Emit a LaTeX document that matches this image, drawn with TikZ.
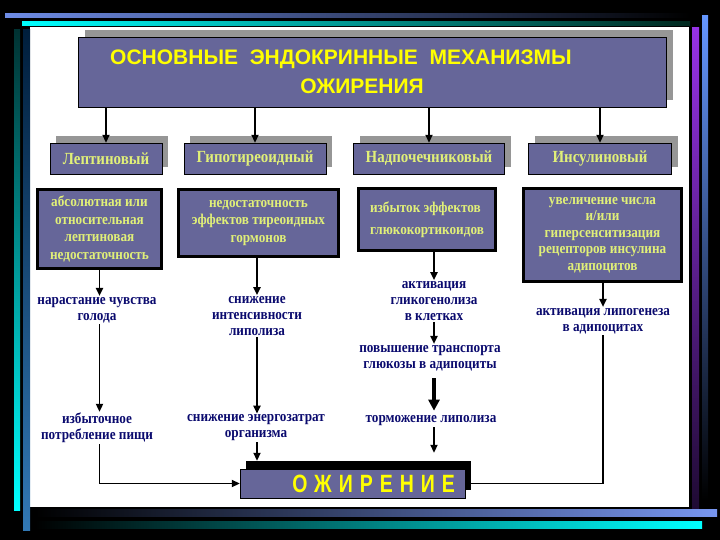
\documentclass[tikz,border=0pt]{standalone}
\usepackage{fontspec}
\setmainfont{Liberation Serif}
\newfontfamily\headfont{Liberation Sans}
\newfontfamily\narrowfont[FakeStretch=0.88]{Liberation Serif}
\newfontfamily\obesfont[FakeStretch=0.78,LetterSpace=28]{Liberation Sans}
\usetikzlibrary{arrows.meta,shadows}
\definecolor{boxfill}{RGB}{102,102,153}
\definecolor{titleyellow}{RGB}{255,255,0}
\definecolor{labelgreen}{RGB}{225,240,120}
\definecolor{navytext}{RGB}{10,10,110}
\definecolor{shadowgray}{RGB}{150,150,150}

\begin{document}
\begin{tikzpicture}[
x=1pt,y=-1pt,
titlebox/.style={
  draw=black,
  fill=boxfill,
  text=titleyellow,
  align=center,
  font=\headfont\bfseries\fontsize{21}{29}\selectfont,
  drop shadow={shadow xshift=7pt,shadow yshift=7pt,fill=shadowgray,opacity=1}
  },
mechbox/.style={
  draw=black,
  fill=boxfill,
  minimum height=31pt,
  text=labelgreen,
  font=\narrowfont\bfseries\fontsize{17}{19}\selectfont,
  drop shadow={shadow xshift=6pt,shadow yshift=7pt,fill=shadowgray,opacity=1}
  },
causebox/.style={
  draw=black,
  line width=3pt,
  fill=boxfill,
  text=labelgreen,
  align=center,
  font=\narrowfont\bfseries\fontsize{15}{17.5}\selectfont
  },
effect/.style={
  text=navytext,
  align=center,
  inner sep=1pt,
  font=\narrowfont\bfseries\fontsize{15}{16}\selectfont
  },
arr/.style={-{Triangle[length=8pt,width=7pt]},line width=1.9pt},
bigarr/.style={-{Triangle[length=11pt,width=11pt]},line width=3.5pt}
]
\useasboundingbox (0,0) rectangle (720,540);
% frame of the slide
\fill[black] (0,0) rectangle (720,540);
\fill[white] (30,27) rectangle (689,507);
\shade[left color={rgb,255:red,110;green,140;blue,230},right color=black] (5,14) rectangle (690,18);
\shade[left color=cyan,right color={rgb,255:red,0;green,40;blue,30}] (22,22) rectangle (690,26);
\shade[top color={rgb,255:red,0;green,50;blue,50},bottom color=cyan] (14,30) rectangle (20,510);
\shade[top color={rgb,255:red,0;green,30;blue,60},bottom color={rgb,255:red,50;green,120;blue,180}] (23,30) rectangle (30,530);
\shade[top color={rgb,255:red,150;green,50;blue,230},bottom color={rgb,255:red,30;green,10;blue,50}] (692,28) rectangle (699,512);
\shade[top color={rgb,255:red,100;green,150;blue,255},bottom color=black] (702,16) rectangle (708,500);
\shade[left color=black,right color={rgb,255:red,120;green,150;blue,240}] (35,509) rectangle (717,516);
\shade[left color=black,right color=cyan] (35,521) rectangle (702,528);

% title and the four mechanisms
\node[titlebox,minimum width=588pt,minimum height=70pt] (mech) at (372,72)
  {ОСНОВНЫЕ\ \ ЭНДОКРИННЫЕ\ \ МЕХАНИЗМЫ\hspace*{62pt}\\ОЖИРЕНИЯ\hspace*{20pt}};
\foreach \name/\x/\w/\txt in {lep/106/112/Лептиновый,hypo/255/142/Гипотиреоидный,adr/429/151/Надпочечниковый,ins/600/143/Инсулиновый}
  {
  \node[mechbox,minimum width=\w pt] (\name) at (\x,158.5) {\txt};
  \draw[arr] (\name.north |- mech.south) -- (\name.north);
  }

% causes
\node[causebox,minimum width=124pt,minimum height=79pt] (lepcause) at (99.5,229)
  {абсолютная или\\относительная\\лептиновая\\недостаточность};
\node[causebox,minimum width=160pt,minimum height=67pt] (hypocause) at (258.5,223)
  {недостаточность\\эффектов тиреоидных\\гормонов};
\node[causebox,minimum width=137pt,minimum height=62pt,align=left,font=\narrowfont\bfseries\fontsize{15}{22}\selectfont] (adrcause) at (427,219.5)
  {избыток эффектов\\глюкокортикоидов};
\node[causebox,minimum width=158pt,minimum height=93pt,font=\narrowfont\bfseries\fontsize{15}{16.5}\selectfont] (inscause) at (602.5,235)
  {увеличение числа\\и/или\\гиперсенситизация\\рецепторов инсулина\\адипоцитов};

% effects
\node[effect] (hunger) at (97,310) {нарастание чувства\\голода};
\node[effect] (lipol) at (257,316) {снижение\\интенсивности\\липолиза};
\node[effect] (glyco) at (434,301) {активация\\гликогенолиза\\в клетках};
\node[effect] (lipogen) at (603,321) {активация липогенеза\\в адипоцитах};
\node[effect] (transport) at (430,358) {повышение транспорта\\глюкозы в адипоциты};
\node[effect] (overeat) at (97,428) {избыточное\\потребление пищи};
\node[effect] (energy) at (256,428) {снижение энергозатрат\\организма};
\node[effect] (inhib) at (431,421) {торможение липолиза};

% result
\node[fill=black,minimum width=225pt,minimum height=29pt] (obback) at (358.5,475.5) {};
\node[draw=black,fill=boxfill,minimum width=225pt,minimum height=29pt,inner ysep=0pt,inner xsep=10pt,
  text width=205pt,align=right,text=titleyellow,font=\obesfont\bfseries\fontsize{25}{25}\selectfont] (obesity) at (352.5,483.5) {ОЖИРЕНИЕ};

% connectors
\draw[arr] (lepcause.south) -- (lepcause.south |- hunger.north);
\draw[arr] (hunger.south -| lepcause) -- (overeat.north -| lepcause);
\draw[arr] (overeat.south -| lepcause) |- (obesity.west);
\draw[arr] (hypocause.south -| lipol) -- (lipol.north);
\draw[arr] (lipol.south) -- (lipol.south |- energy.north);
\draw[arr] (energy.south -| lipol) -- (lipol |- obback.north);
\draw[arr] (adrcause.south -| glyco) -- (glyco.north);
\draw[arr] (glyco.south) -- (glyco.south |- transport.north);
\draw[bigarr,shorten <=6pt,shorten >=4pt] (transport.south -| glyco) -- (inhib.north -| glyco);
\draw[arr,shorten >=8pt] (inhib.south -| glyco) -- (glyco |- obback.north);
\draw[arr] (inscause.south -| lipogen) -- (lipogen.north);
\draw[line width=1.9pt] (lipogen.south) |- (obesity.east);
\end{tikzpicture}
\end{document}
